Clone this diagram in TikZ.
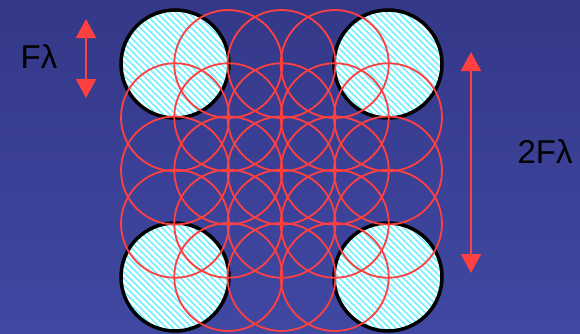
\documentclass[tikz,border=0pt]{standalone}
\usepackage{fontspec}
\setmainfont{Liberation Sans}
\usetikzlibrary{positioning,arrows.meta,patterns.meta}
\definecolor{bgtop}{RGB}{52,56,136}
\definecolor{bgbot}{RGB}{64,72,162}
\definecolor{beamred}{RGB}{255,64,64}
\definecolor{stripe}{RGB}{110,240,255}
\tikzset{
  aperture/.style={circle,draw=black,line width=3.5pt,minimum size=108pt,inner sep=0pt,
    preaction={fill=white},pattern={Lines[angle=-45,distance=4.5pt,line width=1.6pt]},pattern color=stripe},
  beam/.style={circle,draw=beamred,line width=1.8pt,minimum size=108pt,inner sep=0pt},
  span/.style={{Triangle[length=19pt,width=20pt]}-{Triangle[length=19pt,width=20pt]},draw=beamred,line width=2pt},
  lbl/.style={font=\fontsize{33}{38}\selectfont,inner sep=0pt}
}

\begin{document}
\begin{tikzpicture}[x=1pt,y=1pt]
\shade[top color=bgtop,bottom color=bgbot] (0,0) rectangle (580,333);
\useasboundingbox (0,0) rectangle (580,333);

% corner apertures
\node[aperture] (TL) at (175,269) {};
\node[aperture] (TR) at (388,269) {};
\node[aperture] (BL) at (175,56) {};
\node[aperture] (BR) at (388,56) {};

% half-step grid of beams, corners left out
\foreach \i in {0,...,4}
  \foreach \j in {0,...,4}{
    \pgfmathtruncatemacro\corner{(\i==0||\i==4)&&(\j==0||\j==4)}
    \ifnum\corner=0
      \node[beam] (G\i\j) at (175+53.25*\i,269-53.25*\j) {};
    \fi
  }

% spacings
\coordinate (FA) at (86,314);
\coordinate (FB) at (86,235);
\draw[span] (FA)--(FB);
\coordinate (DA) at (471,281);
\coordinate (DB) at (471,60);
\draw[span] (DA)--(DB);

\node[lbl] (F) at (39,276) {Fλ};
\node[lbl] (F2) at (545,181) {2Fλ};
\end{tikzpicture}
\end{document}
